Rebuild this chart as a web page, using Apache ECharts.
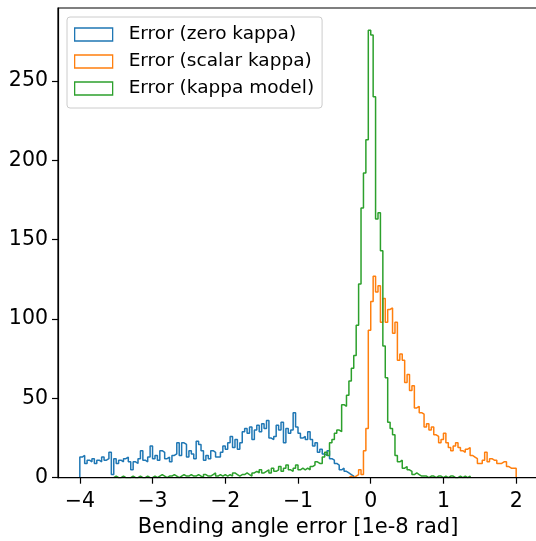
<!DOCTYPE html>
<html>
<head>
<meta charset="utf-8">
<script src="https://cdn.jsdelivr.net/npm/echarts@6/dist/echarts.min.js"></script>
<style>html,body{margin:0;padding:0;background:#fff;}#c{width:536px;height:541px;}</style>
</head>
<body>
<div id="c"></div>
<script>
// Shared histogram bin edges: start -4, width 1/30 (180 bins up to 2)
const binStart = -4;
const binWidth = 1 / 30;
const seriesNames = ['Error (zero kappa)', 'Error (scalar kappa)', 'Error (kappa model)'];
const xTicks = [-4, -3, -2, -1, 0, 1, 2];
const yTicks = [0, 50, 100, 150, 200, 250];

const blueFirstBin = 0;
const blueCounts = [13,14,9,11,10,12,9,11,10,13, 11,12,16,2,12,9,11,10,12,13,
  10,5,10,9,12,17,11,10,13,20, 12,14,11,17,16,12,13,10,14,15,
  22,14,22,21,13,17,15,12,23,21, 17,11,14,12,17,16,13,13,16,20,
  18,22,26,19,24,18,22,29,31,28, 32,24,30,33,29,34,31,36,25,24,
  26,33,30,35,22,31,28,30,41,32, 28,25,26,24,29,24,20,22,16,18,
  15,14,17,12,11,9,8,5,6,4, 3,2,1];

const orangeFirstBin = 111;
const orangeCounts = [1,0,1,2,5,2,17,31,93,
  111,127,117,121,98,113,98,106,107,91,
  98,74,78,74,60,65,55,58,44,45,
  41,40,32,34,30,32,27,26,22,24,
  28,22,19,17,20,22,19,17,16,18,
  19,14,13,12,9,9,11,16,10,12,
  11,11,9,9,10,10,7,6,6,6];

const greenFirstBin = 14;
const greenCounts = [1,0,0,1,0,0,
  0,1,0,0,1,0,0,1,0,0,
  1,0,1,2,1,0,1,1,2,1,0,1,2,1,1,2,1,
  1,2,1,0,2,1,1,2,3,1,2,1,2,1,
  2,1,3,2,1,2,2,3,2,1,3,4,3,5,3,
  4,5,3,6,4,5,7,4,6,8,5,4,6,8,5,6,5,
  6,5,7,8,10,9,9,
  13,16,14,22,24,28,30,29,46,45,52,61,69,77,96,122,170,192,213,
  282,279,240,163,167,143,83,63,35,31,27,14,10,11,6,7,5,4,2,3,2,1,
  1,1,0,1,1,0,1,1,0,1,0,1,1,0,0,1,0,1,0,1];

const colors = ['#1f77b4', '#ff7f0e', '#2ca02c'];

function stepPoints(first, counts) {
  const pts = [];
  const e0 = binStart + first * binWidth;
  pts.push([e0, 0]);
  counts.forEach((c, j) => pts.push([binStart + (first + j) * binWidth, c]));
  const xe = binStart + (first + counts.length) * binWidth;
  pts.push([xe, counts[counts.length - 1]]);
  pts.push([xe, 0]);
  return pts;
}

const FONT = 'DejaVu Sans';
const chart = echarts.init(document.getElementById('c'), null, {renderer: 'canvas'});
const fmt = v => String(v).replace('-', '\u2212');

const datasets = [stepPoints(blueFirstBin, blueCounts), stepPoints(orangeFirstBin, orangeCounts), stepPoints(greenFirstBin, greenCounts)];

chart.setOption({
  animation: false,
  backgroundColor: '#ffffff',
  grid: {left: 58, top: 8, width: 480, height: 469.7, show: true, borderColor: '#000', borderWidth: 1.2, backgroundColor: 'transparent', containLabel: false, outerBoundsMode: 'none'},
  xAxis: {
    type: 'value', min: -4.3, max: 2.3, z: 5,
    splitLine: {show: false},
    axisLine: {show: true, onZero: false, lineStyle: {color: '#000', width: 1.2}},
    axisTick: {show: true, length: 6, lineStyle: {color: '#000', width: 1.2}, customValues: xTicks},
    axisLabel: {customValues: xTicks, formatter: fmt, fontFamily: FONT, fontSize: 20.5, color: '#000', margin: 13},
    name: 'Bending angle error [1e-8 rad]', nameLocation: 'middle', nameGap: 36,
    nameTextStyle: {fontFamily: FONT, fontSize: 21, color: '#000'}
  },
  yAxis: {
    type: 'value', min: 0, max: 296, z: 5,
    splitLine: {show: false},
    axisLine: {show: true, onZero: false, lineStyle: {color: '#000', width: 1.2}},
    axisTick: {show: true, length: 6, lineStyle: {color: '#000', width: 1.2}, customValues: yTicks},
    axisLabel: {customValues: yTicks, fontFamily: FONT, fontSize: 20.5, color: '#000', margin: 10}
  },
  legend: {
    orient: 'vertical', left: 67, top: 17, align: 'left',
    icon: 'rect', itemWidth: 38, itemHeight: 13, itemGap: 8,
    padding: [8, 8, 10, 7],
    backgroundColor: 'rgba(255,255,255,0.8)', borderColor: '#cccccc', borderWidth: 1, borderRadius: 3,
    textStyle: {fontFamily: FONT, fontSize: 18.5, color: '#000', padding: [0, 0, 0, 11]},
    data: seriesNames.map((n, i) => ({name: n, itemStyle: {color: '#ffffff', borderColor: colors[i], borderWidth: 1.3}}))
  },
  series: seriesNames.map((n, i) => ({
    name: n, type: 'line', step: 'end', data: datasets[i], showSymbol: false, symbol: 'none',
    lineStyle: {color: colors[i], width: 1.5}, itemStyle: {color: colors[i]}, z: 2 + i
  }))
});
</script>
</body>
</html>
